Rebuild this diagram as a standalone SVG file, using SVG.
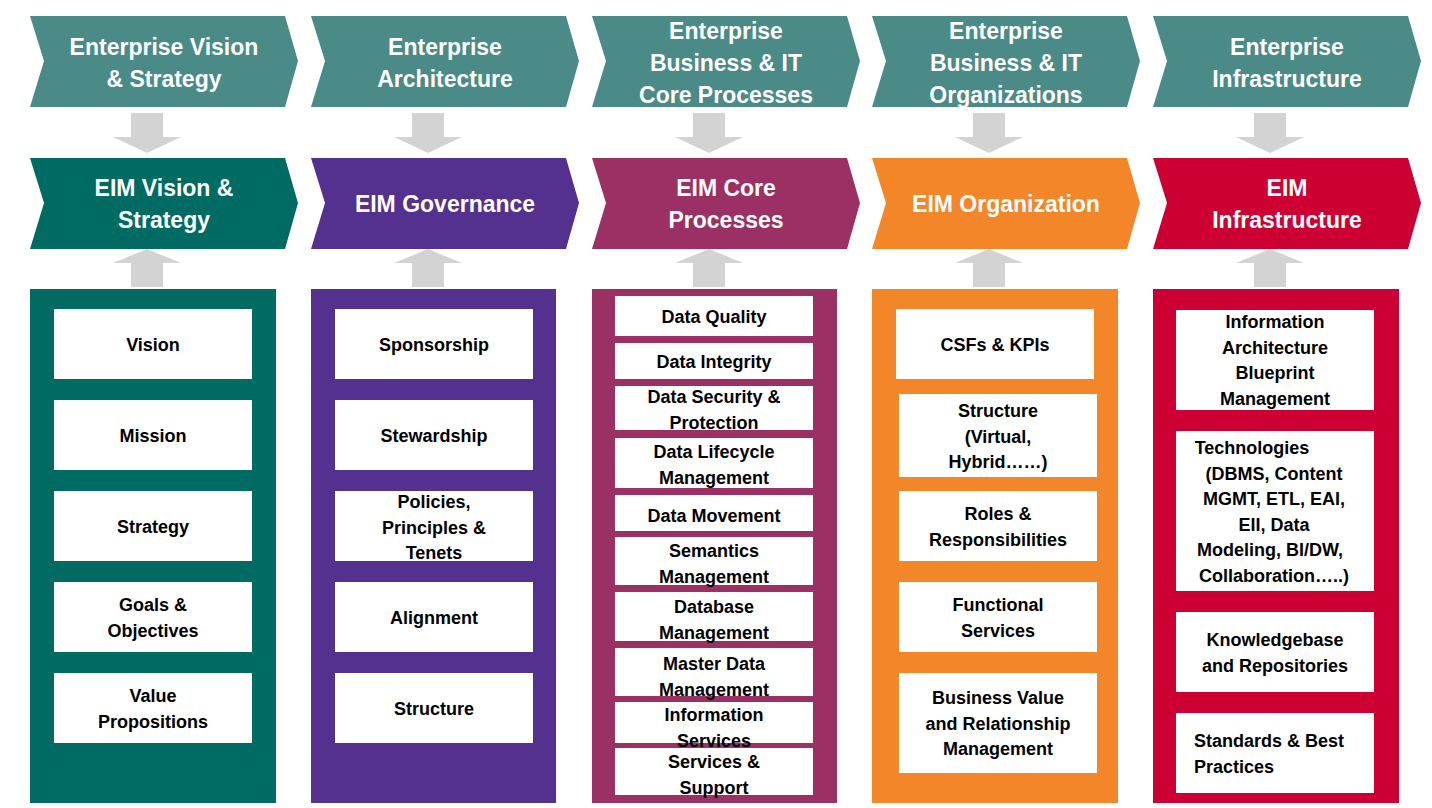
<svg xmlns="http://www.w3.org/2000/svg" width="1432" height="808" viewBox="0 0 1432 808">
<style>
.h{font-family:"Liberation Sans",Arial,sans-serif;font-weight:bold;font-size:23px;fill:#fff;text-anchor:middle}
.t{font-family:"Liberation Sans",Arial,sans-serif;font-weight:bold;font-size:18px;fill:#000;text-anchor:middle}
.b{fill:#fff}
</style>
<defs>
<path id="chev" d="M0,0 H255 L268,45 L255,91 H0 L14,45 Z"/>
<path id="dn" d="M101,0 H133 V24 H151 L117,40 L83,24 H101 Z"/>
<path id="up" d="M117,0 L151,14 H133 V38 H101 V14 H83 Z"/>
</defs>
<rect width="1432" height="808" fill="#fff"/>
<g id="connectors" fill="#D3D3D3">
<use href="#dn" x="30" y="113"/><use href="#dn" x="311" y="113"/><use href="#dn" x="592" y="113"/><use href="#dn" x="872" y="113"/><use href="#dn" x="1153" y="113"/>
<use href="#up" x="30" y="249"/><use href="#up" x="311" y="249"/><use href="#up" x="592" y="249"/><use href="#up" x="872" y="249"/><use href="#up" x="1153" y="249"/>
</g>
<g id="top1"><use href="#chev" x="30" y="16" fill="#4A8A87"/><text class="h" x="164" y="55">Enterprise Vision</text><text class="h" x="164" y="87">&amp; Strategy</text></g>
<g id="top2"><use href="#chev" x="311" y="16" fill="#4A8A87"/><text class="h" x="445" y="55">Enterprise</text><text class="h" x="445" y="87">Architecture</text></g>
<g id="top3"><use href="#chev" x="592" y="16" fill="#4A8A87"/><text class="h" x="726" y="39">Enterprise</text><text class="h" x="726" y="71">Business &amp; IT</text><text class="h" x="726" y="103">Core Processes</text></g>
<g id="top4"><use href="#chev" x="872" y="16" fill="#4A8A87"/><text class="h" x="1006" y="39">Enterprise</text><text class="h" x="1006" y="71">Business &amp; IT</text><text class="h" x="1006" y="103">Organizations</text></g>
<g id="top5"><use href="#chev" x="1153" y="16" fill="#4A8A87"/><text class="h" x="1287" y="55">Enterprise</text><text class="h" x="1287" y="87">Infrastructure</text></g>
<g id="eim1"><use href="#chev" x="30" y="158" fill="#006B63"/><text class="h" x="164" y="196">EIM Vision &amp;</text><text class="h" x="164" y="228">Strategy</text></g>
<g id="eim2"><use href="#chev" x="311" y="158" fill="#54308F"/><text class="h" x="445" y="212">EIM Governance</text></g>
<g id="eim3"><use href="#chev" x="592" y="158" fill="#9A3063"/><text class="h" x="726" y="196">EIM Core</text><text class="h" x="726" y="228">Processes</text></g>
<g id="eim4"><use href="#chev" x="872" y="158" fill="#F4862A"/><text class="h" x="1006" y="212">EIM Organization</text></g>
<g id="eim5"><use href="#chev" x="1153" y="158" fill="#CC0033"/><text class="h" x="1287" y="196">EIM</text><text class="h" x="1287" y="228">Infrastructure</text></g>
<g id="col1">
<rect x="30" y="289" width="246" height="514" fill="#006B63"/>
<rect class="b" x="54" y="309" width="198" height="70"/><text class="t" x="153" y="351">Vision</text>
<rect class="b" x="54" y="400" width="198" height="70"/><text class="t" x="153" y="442">Mission</text>
<rect class="b" x="54" y="491" width="198" height="70"/><text class="t" x="153" y="533">Strategy</text>
<rect class="b" x="54" y="582" width="198" height="70"/><text class="t" x="153" y="611">Goals &amp;</text><text class="t" x="153" y="637">Objectives</text>
<rect class="b" x="54" y="673" width="198" height="70"/><text class="t" x="153" y="702">Value</text><text class="t" x="153" y="728">Propositions</text>
</g>
<g id="col2">
<rect x="311" y="289" width="245" height="514" fill="#54308F"/>
<rect class="b" x="335" y="309" width="198" height="70"/><text class="t" x="434" y="351">Sponsorship</text>
<rect class="b" x="335" y="400" width="198" height="70"/><text class="t" x="434" y="442">Stewardship</text>
<rect class="b" x="335" y="491" width="198" height="70"/><text class="t" x="434" y="508">Policies,</text><text class="t" x="434" y="534">Principles &amp;</text><text class="t" x="434" y="559">Tenets</text>
<rect class="b" x="335" y="582" width="198" height="70"/><text class="t" x="434" y="624">Alignment</text>
<rect class="b" x="335" y="673" width="198" height="70"/><text class="t" x="434" y="715">Structure</text>
</g>
<g id="col3">
<rect x="592" y="289" width="245" height="514" fill="#9A3063"/>
<rect class="b" x="615" y="296" width="198" height="40"/><text class="t" x="714" y="323">Data Quality</text>
<rect class="b" x="615" y="343" width="198" height="36"/><text class="t" x="714" y="368">Data Integrity</text>
<rect class="b" x="615" y="386" width="198" height="44"/><text class="t" x="714" y="403">Data Security &amp;</text><text class="t" x="714" y="429">Protection</text>
<rect class="b" x="615" y="438" width="198" height="50"/><text class="t" x="714" y="458">Data Lifecycle</text><text class="t" x="714" y="484">Management</text>
<rect class="b" x="615" y="495" width="198" height="36"/><text class="t" x="714" y="522">Data Movement</text>
<rect class="b" x="615" y="537" width="198" height="48"/><text class="t" x="714" y="557">Semantics</text><text class="t" x="714" y="583">Management</text>
<rect class="b" x="615" y="592" width="198" height="49"/><text class="t" x="714" y="613">Database</text><text class="t" x="714" y="639">Management</text>
<rect class="b" x="615" y="648" width="198" height="48"/><text class="t" x="714" y="670">Master Data</text><text class="t" x="714" y="696">Management</text>
<rect class="b" x="615" y="702" width="198" height="41"/><text class="t" x="714" y="721">Information</text><text class="t" x="714" y="747">Services</text>
<rect class="b" x="615" y="748" width="198" height="47"/><text class="t" x="714" y="768">Services &amp;</text><text class="t" x="714" y="794">Support</text>
</g>
<g id="col4">
<rect x="872" y="289" width="246" height="514" fill="#F4862A"/>
<rect class="b" x="896" y="309" width="198" height="70"/><text class="t" x="995" y="351">CSFs &amp; KPIs</text>
<rect class="b" x="899" y="394" width="198" height="83"/><text class="t" x="998" y="417">Structure</text><text class="t" x="998" y="443">(Virtual,</text><text class="t" x="998" y="468">Hybrid……)</text>
<rect class="b" x="899" y="491" width="198" height="70"/><text class="t" x="998" y="520">Roles &amp;</text><text class="t" x="998" y="546">Responsibilities</text>
<rect class="b" x="899" y="582" width="198" height="70"/><text class="t" x="998" y="611">Functional</text><text class="t" x="998" y="637">Services</text>
<rect class="b" x="899" y="673" width="198" height="100"/><text class="t" x="998" y="704">Business Value</text><text class="t" x="998" y="730">and Relationship</text><text class="t" x="998" y="755">Management</text>
</g>
<g id="col5">
<rect x="1153" y="289" width="246" height="514" fill="#CC0033"/>
<rect class="b" x="1176" y="310" width="198" height="100"/><text class="t" x="1275" y="328">Information</text><text class="t" x="1275" y="354">Architecture</text><text class="t" x="1275" y="379">Blueprint</text><text class="t" x="1275" y="405">Management</text>
<rect class="b" x="1176" y="431" width="198" height="160"/><text class="t" x="1252" y="454">Technologies</text><text class="t" x="1274" y="480">(DBMS, Content</text><text class="t" x="1274" y="505">MGMT, ETL, EAI,</text><text class="t" x="1274" y="531">EII, Data</text><text class="t" x="1270" y="556">Modeling, BI/DW,</text><text class="t" x="1274" y="582">Collaboration…..)</text>
<rect class="b" x="1176" y="612" width="198" height="80"/><text class="t" x="1275" y="646">Knowledgebase</text><text class="t" x="1275" y="672">and Repositories</text>
<rect class="b" x="1176" y="713" width="198" height="80"/><text class="t" x="1194" y="747" style="text-anchor:start">Standards &amp; Best</text><text class="t" x="1194" y="773" style="text-anchor:start">Practices</text>
</g>
</svg>
